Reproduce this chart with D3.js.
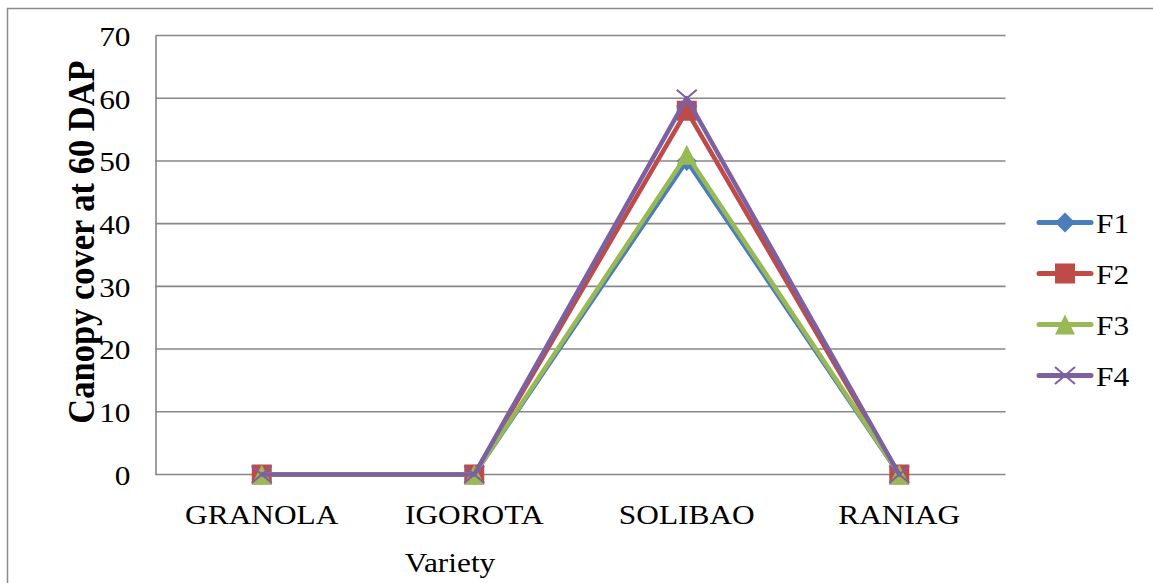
<!DOCTYPE html>
<html>
<head>
<meta charset="utf-8">
<script src="https://cdn.jsdelivr.net/npm/d3@7"></script>
<style>
  html, body { margin: 0; padding: 0; background: #fff; }
  svg { display: block; }
  text { font-family: "Liberation Serif", "Times New Roman", serif; fill: #000; }
</style>
</head>
<body>
<svg id="chart" width="1153" height="583"></svg>
<script>
// Canopy cover at 60 DAP by variety, four treatments
const categories = ["GRANOLA", "IGOROTA", "SOLIBAO", "RANIAG"];
const seriesNames = ["F1", "F2", "F3", "F4"];
const f1Values = [0, 0, 50, 0];
const f2Values = [0, 0, 58, 0];
const f3Values = [0, 0, 51, 0];
const f4Values = [0, 0, 60, 0];
const yTickValues = [0, 10, 20, 30, 40, 50, 60, 70];
const xTitle = "Variety";
const yTitle = "Canopy cover at 60 DAP";

const seriesValues = [f1Values, f2Values, f3Values, f4Values];
const colors = ["#4A7EBB", "#BE4B48", "#98B954", "#7D60A0"];
const markers = ["diamond", "square", "triangle", "cross"];

const W = 1153, H = 583;
const plot = { left: 155.5, right: 1005.5, top: 35.5, bottom: 474.5 };
const sx = 1.12; // horizontal text stretch
const fontSize = 28;

const svg = d3.select("#chart");

// outer frame
svg.append("rect")
  .attr("x", 7.5).attr("y", 8.5)
  .attr("width", W + 20).attr("height", H + 20)
  .attr("fill", "none").attr("stroke", "#8a8a8a").attr("stroke-width", 1.5);

const x = d3.scalePoint().domain(categories).range([plot.left, plot.right]).padding(0.5);
const y = d3.scaleLinear().domain([0, 70]).range([plot.bottom, plot.top]);

// gridlines
svg.append("g").selectAll("line").data(yTickValues).join("line")
  .attr("x1", plot.left).attr("x2", plot.right)
  .attr("y1", d => y(d)).attr("y2", d => y(d))
  .attr("stroke", "#878787").attr("stroke-width", 1.6);

// y axis
const yAxis = svg.append("g").attr("transform", `translate(${plot.left},0)`)
  .call(d3.axisLeft(y).tickValues(yTickValues).tickSize(0).tickPadding(0));
yAxis.select(".domain").attr("stroke", "#878787").attr("stroke-width", 1.6);
yAxis.selectAll("text")
  .attr("x", -25 / sx).attr("dy", "0.35em")
  .attr("transform", `scale(${sx},1)`)
  .style("font-size", fontSize + "px")
  .style("font-family", "Liberation Serif");

// category labels
svg.append("g").selectAll("text").data(categories).join("text")
  .attr("transform", d => `translate(${x(d)},${523.5}) scale(${sx},1)`)
  .attr("text-anchor", "middle")
  .style("font-size", fontSize + "px")
  .text(d => d);

// axis titles
svg.append("text")
  .attr("transform", `translate(450,572) scale(${sx},1)`)
  .attr("text-anchor", "middle")
  .style("font-size", fontSize + "px")
  .text(xTitle);

svg.append("text")
  .attr("transform", `translate(94,242) scale(${sx},1) rotate(-90)`)
  .attr("text-anchor", "middle")
  .style("font-size", "34.5px")
  .style("font-weight", "bold")
  .text(yTitle);

function drawMarker(g, kind, cx, cy, color) {
  const s = 10;
  if (kind === "diamond") {
    g.append("path").attr("d", `M${cx},${cy - s}L${cx + s},${cy}L${cx},${cy + s}L${cx - s},${cy}Z`)
      .attr("fill", color);
  } else if (kind === "square") {
    g.append("rect").attr("x", cx - s).attr("y", cy - s).attr("width", 2 * s).attr("height", 2 * s)
      .attr("fill", color);
  } else if (kind === "triangle") {
    g.append("path").attr("d", `M${cx},${cy - s}L${cx + s},${cy + s}L${cx - s},${cy + s}Z`)
      .attr("fill", color);
  } else {
    g.append("path").attr("d", `M${cx - s},${cy - s * 0.85}L${cx + s},${cy + s * 0.85}M${cx - s},${cy + s * 0.85}L${cx + s},${cy - s * 0.85}`)
      .attr("stroke", color).attr("stroke-width", 2).attr("fill", "none");
  }
}

const line = d3.line().x((d, i) => x(categories[i])).y(d => y(d));

seriesValues.forEach((vals, si) => {
  const g = svg.append("g");
  g.append("path").datum(vals)
    .attr("d", line)
    .attr("fill", "none")
    .attr("stroke", colors[si])
    .attr("stroke-width", 4.5)
    .attr("stroke-linejoin", "round")
    .attr("stroke-linecap", "round");
  vals.forEach((v, i) => drawMarker(g, markers[si], x(categories[i]), y(v), colors[si]));
});

// legend
const legend = svg.append("g");
seriesNames.forEach((name, i) => {
  const ly = 222.5 + i * 51;
  const g = legend.append("g");
  g.append("line").attr("x1", 1039).attr("x2", 1091).attr("y1", ly).attr("y2", ly)
    .attr("stroke", colors[i]).attr("stroke-width", 5).attr("stroke-linecap", "round");
  drawMarker(g, markers[i], 1065, ly, colors[i]);
  g.append("text")
    .attr("transform", `translate(1096,${ly + 10}) scale(${sx},1)`)
    .style("font-size", fontSize + "px")
    .text(name);
});
</script>
</body>
</html>
